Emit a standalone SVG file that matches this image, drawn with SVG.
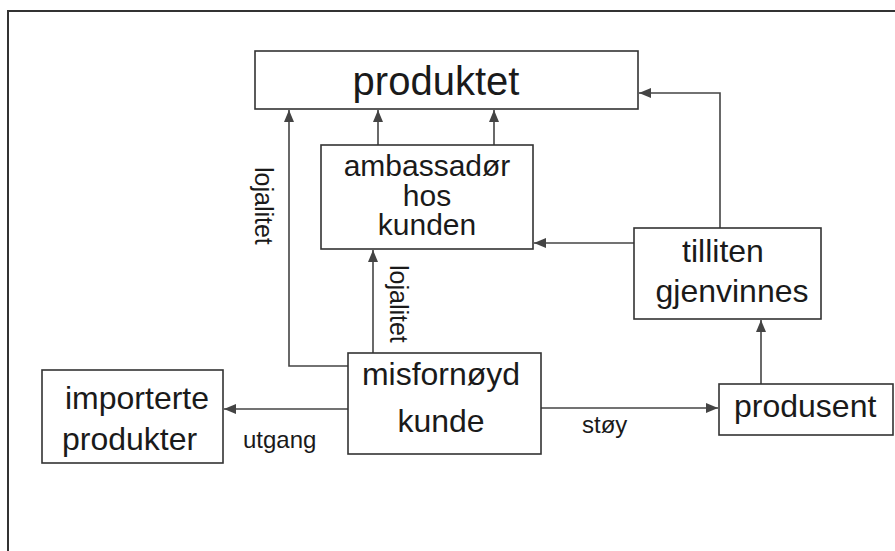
<svg xmlns="http://www.w3.org/2000/svg" width="895" height="551" viewBox="0 0 895 551">
<defs>
<marker id="arr" markerUnits="userSpaceOnUse" markerWidth="12" markerHeight="12" viewBox="0 0 12 12" refX="12" refY="6" orient="auto">
<path d="M0,1 L12,6 L0,11 Z" fill="#444"/>
</marker>
<style>
.box{fill:#fff;stroke:#333;stroke-width:1.6}
.t{font-family:"Liberation Sans",Arial,sans-serif;fill:#1a1a1a}
.c{stroke:#444;stroke-width:1.6;fill:none}
.a{marker-end:url(#arr)}
</style>
</defs>
<rect width="895" height="551" fill="#fff"/>
<path d="M8,551 V11 H895" fill="none" stroke="#333" stroke-width="2"/>
<g id="connectors">
<path class="c a" d="M348,409 H224"/>
<path class="c a" d="M541,408 H718"/>
<path class="c a" d="M761,384 V320"/>
<path class="c a" d="M634,243 H534"/>
<path class="c a" d="M720,228 V93 H639"/>
<path class="c a" d="M378,145 V110"/>
<path class="c a" d="M494,145 V110"/>
<path class="c a" d="M348,366 H289 V110"/>
<path class="c a" d="M373,353 V250"/>
<text class="t" font-size="25" transform="translate(255,167) rotate(90)">lojalitet</text>
<text class="t" font-size="25" transform="translate(390,265) rotate(90)">lojalitet</text>
<text class="t" font-size="24" x="243" y="448">utgang</text>
<text class="t" font-size="24" x="582" y="433">støy</text>
</g>
<g id="produktet">
<rect class="box" x="255" y="51" width="383" height="58"/>
<text class="t" font-size="40" x="436" y="95" text-anchor="middle">produktet</text>
</g>
<g id="ambassador">
<rect class="box" x="321" y="145" width="212" height="104"/>
<text class="t" font-size="30" x="427" y="176" text-anchor="middle">ambassadør</text>
<text class="t" font-size="30" x="427" y="205.5" text-anchor="middle">hos</text>
<text class="t" font-size="30" x="427" y="235" text-anchor="middle">kunden</text>
</g>
<g id="tilliten">
<rect class="box" x="634" y="228" width="187" height="91"/>
<text class="t" font-size="32" x="723" y="262" text-anchor="middle">tilliten</text>
<text class="t" font-size="32" x="732" y="302" text-anchor="middle">gjenvinnes</text>
</g>
<g id="misfornoyd">
<rect class="box" x="348" y="353" width="193" height="101"/>
<text class="t" font-size="32" x="441" y="385" text-anchor="middle">misfornøyd</text>
<text class="t" font-size="32" x="441" y="432" text-anchor="middle">kunde</text>
</g>
<g id="importerte">
<rect class="box" x="42" y="370" width="181" height="93"/>
<text class="t" font-size="32" x="65" y="409">importerte</text>
<text class="t" font-size="32" x="62" y="450">produkter</text>
</g>
<g id="produsent">
<rect class="box" x="719" y="384" width="174" height="51"/>
<text class="t" font-size="32" x="734" y="417">produsent</text>
</g>
</svg>
